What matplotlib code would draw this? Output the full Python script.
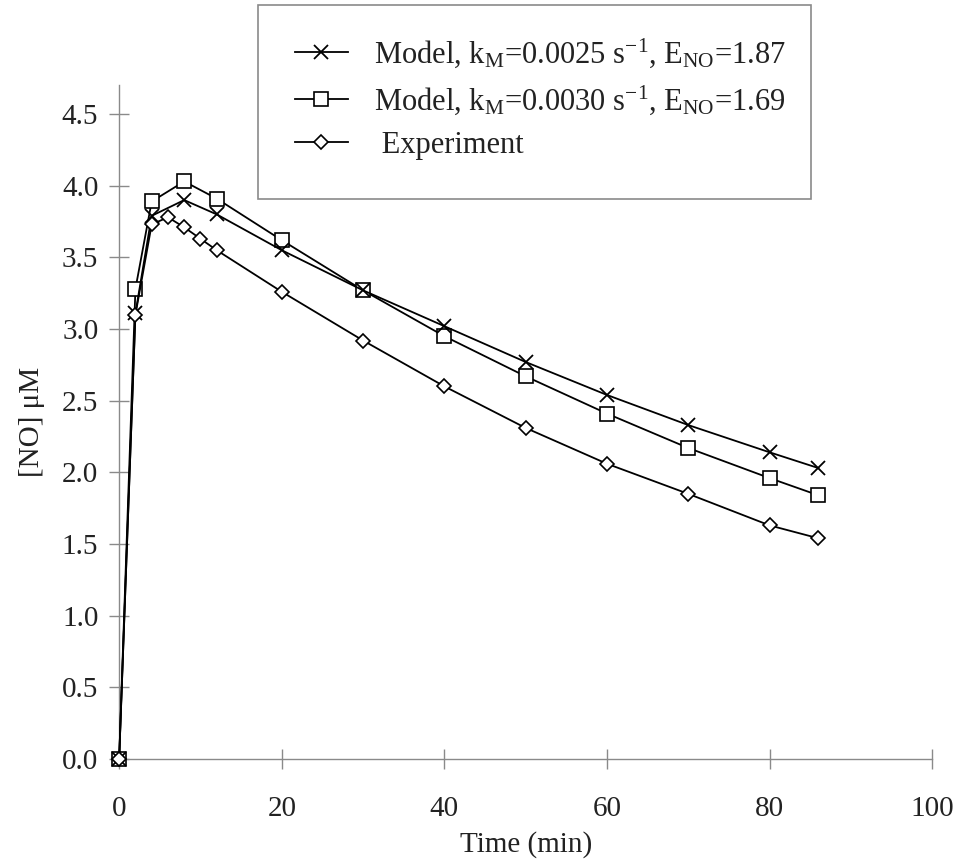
import matplotlib
matplotlib.use('Agg')
import matplotlib.pyplot as plt
from matplotlib.patches import Rectangle

# data
timeModel = [0, 2, 4, 8, 12, 20, 30, 40, 50, 60, 70, 80, 86]
modelA = [0, 3.11, 3.79, 3.90, 3.80, 3.55, 3.27, 3.02, 2.77, 2.54, 2.33, 2.14, 2.03]
modelB = [0, 3.28, 3.89, 4.03, 3.91, 3.62, 3.27, 2.95, 2.67, 2.41, 2.17, 1.96, 1.84]
timeExp = [0, 2, 4, 6, 8, 10, 12, 20, 30, 40, 50, 60, 70, 80, 86]
experiment = [0, 3.10, 3.73, 3.78, 3.71, 3.63, 3.55, 3.26, 2.92, 2.60, 2.31, 2.06, 1.85, 1.63, 1.54]

labelA = r'Model, k$_{\rm M}$=0.0025 s$^{-1}$, E$_{\rm NO}$=1.87'
labelB = r'Model, k$_{\rm M}$=0.0030 s$^{-1}$, E$_{\rm NO}$=1.69'
labelExp = ' Experiment'

xTicks = [0, 20, 40, 60, 80, 100]
yTicks = [0.0, 0.5, 1.0, 1.5, 2.0, 2.5, 3.0, 3.5, 4.0, 4.5]

plt.rcParams['font.family'] = ['Liberation Serif', 'DejaVu Serif']
plt.rcParams['mathtext.fontset'] = 'custom'
plt.rcParams['mathtext.rm'] = 'Liberation Serif'
plt.rcParams['mathtext.it'] = 'Liberation Serif'

fig = plt.figure(figsize=(9.61, 8.68), dpi=100)
ax = fig.add_axes([0.124, 0.1256, 0.846, 0.776])

lineA, = ax.plot(timeModel, modelA, color='black', lw=1.3, marker='x', ms=10, mew=1.3, zorder=4, clip_on=False)
lineB, = ax.plot(timeModel, modelB, color='black', lw=1.3, marker='s', ms=10, mfc='white', mew=1.2, zorder=3, clip_on=False)
lineE, = ax.plot(timeExp, experiment, color='black', lw=1.3, marker='D', ms=7, mfc='white', mew=1.2, zorder=5, clip_on=False)

ax.set_xlim(0, 100)
ax.set_ylim(0, 4.7)
ax.set_xticks(xTicks)
ax.set_xticklabels([str(v) for v in xTicks])
ax.set_yticks(yTicks)
ax.set_yticklabels(['{:.1f}'.format(v) for v in yTicks])

for side in ['top', 'right']:
    ax.spines[side].set_visible(False)
for side in ['left', 'bottom']:
    ax.spines[side].set_color('#8a8a8a')
    ax.spines[side].set_linewidth(1.0)

ax.tick_params(axis='both', direction='inout', length=14, width=1.0, color='#8a8a8a', labelsize=21, labelcolor='#222222')
ax.tick_params(axis='x', pad=20)
ax.tick_params(axis='y', pad=8)

ax.set_xlabel('Time (min)', fontsize=21, color='#222222', labelpad=6)
ax.set_ylabel('[NO] \u03bcM', fontsize=21, color='#222222', labelpad=12)

# legend box drawn as a figure rectangle, entries placed inside
fig.patches.append(Rectangle((258 / 961, 1 - 199 / 868), (811 - 258) / 961, (199 - 5) / 868,
                             transform=fig.transFigure, fill=False, edgecolor='#8a8a8a', lw=1.2))
fig.legend([lineA, lineB, lineE], [labelA, labelB, labelExp], loc='upper left',
           bbox_to_anchor=(0.278, 0.99), frameon=False, fontsize=22,
           handlelength=1.75, handletextpad=0.85, labelspacing=0.45, labelcolor='#222222')

fig.savefig('out.png', dpi=100)
